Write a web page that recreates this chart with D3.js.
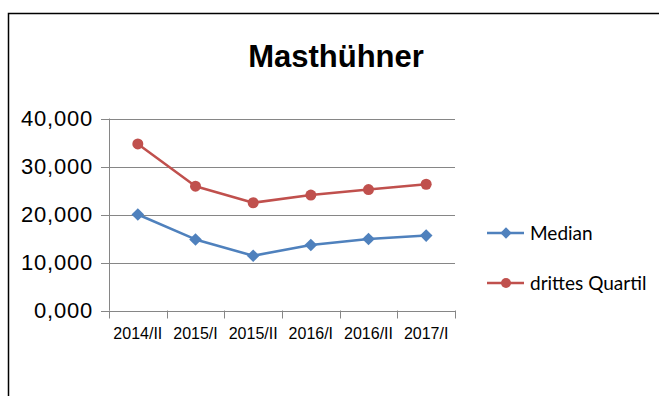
<!DOCTYPE html>
<html>
<head>
<meta charset="utf-8">
<script src="https://cdn.jsdelivr.net/npm/d3@7"></script>
<style>
  html, body { margin: 0; padding: 0; background: #fff; }
  svg { display: block; }
</style>
</head>
<body>
<svg id="chart" width="659" height="396"></svg>
<script>
// Half-year periods and the two series (Masthühner)
const categories = ["2014/II", "2015/I", "2015/II", "2016/I", "2016/II", "2017/I"];
const medianValues = [20.0, 14.8, 11.4, 13.65, 14.9, 15.6];
const quartileValues = [34.7, 25.9, 22.45, 24.05, 25.2, 26.3];
const yTickValues = [0, 10, 20, 30, 40];
const yTickLabels = ["0,000", "10,000", "20,000", "30,000", "40,000"];
const seriesNames = ["Median", "drittes Quartil"];

const blue = "#4F81BD", red = "#C0504D", grid = "#868686";

const svg = d3.select("#chart");

// outer frame
svg.append("rect")
  .attr("x", 8.5).attr("y", 13.5)
  .attr("width", 700).attr("height", 420)
  .attr("fill", "none").attr("stroke", "#000").attr("stroke-width", 1.5);

const plot = { left: 109, right: 455, top: 118.5, bottom: 310.5 };

const x = d3.scaleBand().domain(categories).range([plot.left, plot.right]);
const y = d3.scaleLinear().domain([0, 40]).range([plot.bottom, plot.top]);

// title
svg.append("text")
  .attr("x", 336).attr("y", 67)
  .attr("text-anchor", "middle")
  .attr("font-family", "Liberation Sans, Arial, sans-serif")
  .attr("font-weight", "bold").attr("font-size", 31)
  .text("Masthühner");

// horizontal gridlines with left tick stubs
svg.append("g").selectAll("line")
  .data(yTickValues)
  .join("line")
  .attr("x1", plot.left - 8).attr("x2", plot.right)
  .attr("y1", d => Math.round(y(d)) + 0.5).attr("y2", d => Math.round(y(d)) + 0.5)
  .attr("stroke", grid).attr("stroke-width", 1);

// y axis line
svg.append("line")
  .attr("x1", plot.left + 0.5).attr("x2", plot.left + 0.5)
  .attr("y1", y(40)).attr("y2", y(0))
  .attr("stroke", grid).attr("stroke-width", 1);

// y tick labels
svg.append("g").selectAll("text")
  .data(yTickValues)
  .join("text")
  .attr("x", 93).attr("y", d => y(d))
  .attr("dy", "0.36em")
  .attr("text-anchor", "end")
  .attr("font-family", "Liberation Sans, Arial, sans-serif")
  .attr("font-size", 22)
  .attr("letter-spacing", 0.8)
  .attr("fill", "#000")
  .text((d, i) => yTickLabels[i]);

// x axis ticks at category boundaries
const boundaries = categories.map(c => x(c)).concat([x(categories[categories.length - 1]) + x.bandwidth()]);
svg.append("g").selectAll("line")
  .data(boundaries)
  .join("line")
  .attr("x1", d => Math.round(d) + 0.5).attr("x2", d => Math.round(d) + 0.5)
  .attr("y1", y(0)).attr("y2", y(0) + 8)
  .attr("stroke", grid).attr("stroke-width", 1);

// x tick labels
svg.append("g").selectAll("text")
  .data(categories)
  .join("text")
  .attr("x", d => x(d) + x.bandwidth() / 2)
  .attr("y", 339)
  .attr("text-anchor", "middle")
  .attr("font-family", "Liberation Sans, Arial, sans-serif")
  .attr("font-size", 16)
  .attr("fill", "#000")
  .text(d => d);

const cx = c => x(c) + x.bandwidth() / 2;
const line = d3.line().x(d => cx(d.c)).y(d => y(d.v));

function drawSeries(values, color, kind) {
  const pts = categories.map((c, i) => ({ c, v: values[i] }));
  svg.append("path")
    .datum(pts)
    .attr("d", line)
    .attr("fill", "none")
    .attr("stroke", color).attr("stroke-width", 2.5)
    .attr("stroke-linejoin", "round");
  if (kind === "diamond") {
    svg.append("g").selectAll("path")
      .data(pts)
      .join("path")
      .attr("d", d3.symbol().type(d3.symbolSquare).size(80)())
      .attr("transform", d => `translate(${cx(d.c)},${y(d.v)}) rotate(45)`)
      .attr("fill", color);
  } else {
    svg.append("g").selectAll("circle")
      .data(pts)
      .join("circle")
      .attr("cx", d => cx(d.c)).attr("cy", d => y(d.v))
      .attr("r", 5.5)
      .attr("fill", color);
  }
}

drawSeries(medianValues, blue, "diamond");
drawSeries(quartileValues, red, "circle");

// legend
const legendRows = [
  { name: seriesNames[0], color: blue, kind: "diamond", y: 233 },
  { name: seriesNames[1], color: red, kind: "circle", y: 283 }
];
const lg = svg.append("g");
legendRows.forEach(r => {
  lg.append("line")
    .attr("x1", 487).attr("x2", 524)
    .attr("y1", r.y).attr("y2", r.y)
    .attr("stroke", r.color).attr("stroke-width", 2.5);
  if (r.kind === "diamond") {
    lg.append("path")
      .attr("d", d3.symbol().type(d3.symbolSquare).size(64)())
      .attr("transform", `translate(506,${r.y}) rotate(45)`)
      .attr("fill", r.color);
  } else {
    lg.append("circle").attr("cx", 506).attr("cy", r.y).attr("r", 5).attr("fill", r.color);
  }
  lg.append("text")
    .attr("x", 530).attr("y", r.y)
    .attr("dy", "0.35em")
    .attr("font-family", "Lato, Carlito, sans-serif")
    .attr("font-size", 19)
    .attr("fill", "#000")
    .text(r.name);
});
</script>
</body>
</html>
